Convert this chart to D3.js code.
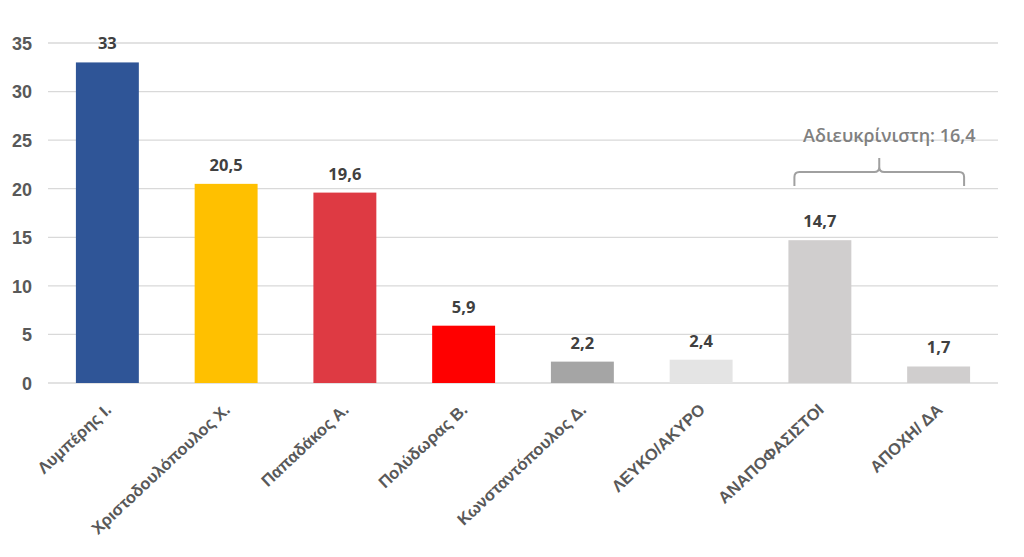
<!DOCTYPE html>
<html><head><meta charset="utf-8">
<script src="https://cdn.jsdelivr.net/npm/d3@7"></script>
<style>body{margin:0;background:#fff}svg{display:block;font-family:"Open Sans",sans-serif}</style>
</head><body><svg id="c" width="1024" height="557"></svg>
<script>
const categories = ["Λυμπέρης Ι.","Χριστοδουλόπουλος Χ.","Παπαδάκος Α.","Πολύδωρας Β.","Κωνσταντόπουλος Δ.","ΛΕΥΚΟ/ΑΚΥΡΟ","ΑΝΑΠΟΦΑΣΙΣΤΟΙ","ΑΠΟΧΗ/ ΔΑ"];
const values = [33, 20.5, 19.6, 5.9, 2.2, 2.4, 14.7, 1.7];
const valueLabels = ["33","20,5","19,6","5,9","2,2","2,4","14,7","1,7"];
const colors = ["#2F5597","#FFC000","#DE3A43","#FF0000","#A5A5A5","#E4E4E4","#D0CECE","#D0CECE"];
const yTicks = [0,5,10,15,20,25,30,35];
const bracketLabel = "Αδιευκρίνιστη: 16,4";
const bracketGroup = ["ΑΝΑΠΟΦΑΣΙΣΤΟΙ","ΑΠΟΧΗ/ ΔΑ"];

(function(){
const svg = d3.select("#c");
const mL = 48, mR = 998, mT = 43, mB = 383;
const x = d3.scaleBand().domain(categories).range([mL, mR]).paddingInner(0.47).paddingOuter(0.235);
const y = d3.scaleLinear().domain([0, 35]).range([mB, mT]);

svg.append("g").selectAll("line").data(yTicks).join("line")
  .attr("x1", mL).attr("x2", mR)
  .attr("y1", d => y(d)).attr("y2", d => y(d))
  .attr("stroke", "#D9D9D9").attr("stroke-width", 1.3);

const yAxis = d3.axisLeft(y).tickValues(yTicks).tickSize(0).tickPadding(0);
const ya = svg.append("g").attr("transform", `translate(32,0)`).call(yAxis);
ya.select(".domain").remove();
ya.selectAll("text").attr("font-size", 18).attr("font-weight", "600").attr("fill", "#595959").attr("dy","0.35em");

svg.append("g").selectAll("rect").data(values).join("rect")
  .attr("x", (d,i) => x(categories[i]))
  .attr("width", x.bandwidth())
  .attr("y", d => y(d))
  .attr("height", d => y(0) - y(d))
  .attr("fill", (d,i) => colors[i]);

svg.append("g").selectAll("text").data(values).join("text")
  .attr("x", (d,i) => x(categories[i]) + x.bandwidth()/2)
  .attr("y", d => y(d) - 13)
  .attr("text-anchor", "middle")
  .attr("font-size", 16.5).attr("font-weight", "700").attr("fill", "#404040")
  .text((d,i) => valueLabels[i]);

const xAxis = d3.axisBottom(x).tickSize(0).tickPadding(0);
const xa = svg.append("g").attr("transform", `translate(0,${mB})`).call(xAxis);
xa.select(".domain").remove();
xa.selectAll("text")
  .attr("font-size", 16.5).attr("font-weight", "600").attr("fill", "#595959")
  .attr("text-anchor", "end").attr("dy", null).attr("y", 0)
  .attr("transform", "translate(5,28) rotate(-43)");

const bx1 = x(bracketGroup[0]) + 6, bx2 = x(bracketGroup[1]) + x.bandwidth() - 6;
const bm = (bx1 + bx2) / 2;
const yb = 186, yt = 172, yp = 158, r = 5;
svg.append("path")
  .attr("d", `M${bx1},${yb} L${bx1},${yt+r} Q${bx1},${yt} ${bx1+r},${yt} L${bm-r},${yt} Q${bm},${yt} ${bm},${yt-r} L${bm},${yp} M${bm},${yt-r} Q${bm},${yt} ${bm+r},${yt} L${bx2-r},${yt} Q${bx2},${yt} ${bx2},${yt+r} L${bx2},${yb}`)
  .attr("fill","none").attr("stroke","#A0A0A0").attr("stroke-width",2);
svg.append("text").attr("x", bm + 10).attr("y", 142).attr("text-anchor","middle")
  .attr("font-size", 18).attr("font-weight","600").attr("fill","#808080").text(bracketLabel);
})();
</script></body></html>
